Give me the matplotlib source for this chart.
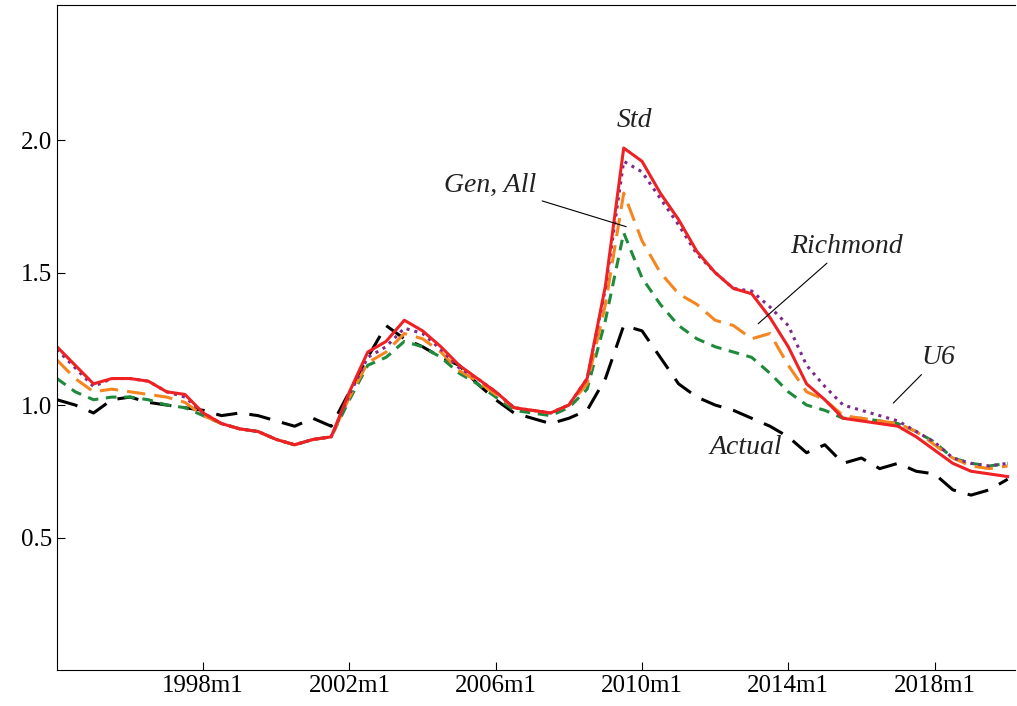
import matplotlib.pyplot as plt
import numpy as np

plt.rcParams['font.family'] = ['Liberation Serif', 'DejaVu Serif']

# semiannual observations, 1994m1 .. 2020m1
t = 1994 + 0.5 * np.arange(53)

std = [1.22, 1.15, 1.08, 1.10, 1.10, 1.09, 1.05, 1.04, 0.97, 0.93,
       0.91, 0.90, 0.87, 0.85, 0.87, 0.88, 1.05, 1.20, 1.24, 1.32,
       1.28, 1.22, 1.15, 1.10, 1.05, 0.99, 0.98, 0.97, 1.00, 1.10,
       1.45, 1.97, 1.92, 1.80, 1.70, 1.58, 1.50, 1.44, 1.42, 1.33,
       1.22, 1.08, 1.02, 0.95, 0.94, 0.93, 0.92, 0.88, 0.83, 0.78,
       0.75, 0.74, 0.73]
u6 = [1.21, 1.14, 1.07, 1.10, 1.10, 1.09, 1.05, 1.03, 0.97, 0.93,
      0.91, 0.90, 0.87, 0.85, 0.87, 0.88, 1.04, 1.18, 1.22, 1.29,
      1.27, 1.21, 1.14, 1.10, 1.05, 0.99, 0.98, 0.97, 1.00, 1.10,
      1.44, 1.92, 1.88, 1.78, 1.68, 1.57, 1.50, 1.44, 1.43, 1.37,
      1.30, 1.15, 1.07, 1.00, 0.98, 0.96, 0.94, 0.90, 0.86, 0.80,
      0.78, 0.77, 0.78]
richmond = [1.17, 1.10, 1.05, 1.06, 1.05, 1.04, 1.03, 1.01, 0.96, 0.93,
            0.91, 0.90, 0.87, 0.85, 0.87, 0.88, 1.03, 1.16, 1.20, 1.27,
            1.25, 1.20, 1.13, 1.09, 1.04, 0.99, 0.98, 0.97, 1.00, 1.08,
            1.38, 1.80, 1.62, 1.50, 1.42, 1.38, 1.32, 1.30, 1.25, 1.27,
            1.15, 1.05, 1.02, 0.96, 0.95, 0.94, 0.93, 0.90, 0.85, 0.80,
            0.77, 0.76, 0.77]
gen_all = [1.10, 1.05, 1.02, 1.03, 1.03, 1.02, 1.00, 0.99, 0.96, 0.93,
           0.91, 0.90, 0.87, 0.85, 0.87, 0.88, 1.02, 1.15, 1.18, 1.24,
           1.22, 1.18, 1.12, 1.08, 1.03, 0.98, 0.97, 0.96, 0.99, 1.06,
           1.32, 1.65, 1.48, 1.38, 1.30, 1.25, 1.22, 1.20, 1.18, 1.12,
           1.05, 1.00, 0.98, 0.95, 0.95, 0.94, 0.93, 0.90, 0.86, 0.80,
           0.78, 0.77, 0.78]
actual = [1.02, 1.00, 0.97, 1.02, 1.03, 1.01, 1.00, 0.99, 0.98, 0.96,
          0.97, 0.96, 0.94, 0.92, 0.95, 0.92, 1.05, 1.18, 1.30, 1.25,
          1.22, 1.18, 1.15, 1.08, 1.02, 0.97, 0.95, 0.93, 0.95, 0.98,
          1.10, 1.30, 1.28, 1.18, 1.08, 1.03, 1.00, 0.98, 0.95, 0.92,
          0.88, 0.82, 0.85, 0.78, 0.80, 0.76, 0.78, 0.75, 0.74, 0.68,
          0.66, 0.68, 0.72]

xticks = [1998, 2002, 2006, 2010, 2014, 2018]
xticklabels = ['1998m1', '2002m1', '2006m1', '2010m1', '2014m1', '2018m1']

fig = plt.figure(figsize=(10.17, 7.06), dpi=100)
ax = fig.add_axes([0.056, 0.051, 0.942, 0.942])

ax.plot(t, actual, color='black', lw=2.2, dashes=(7, 4))
ax.plot(t, gen_all, color='#1e8a3c', lw=2.2, dashes=(3.5, 2.5))
ax.plot(t, richmond, color='#f5861f', lw=2.2, dashes=(6, 3))
ax.plot(t, u6, color='#7b2a8c', lw=2.2, linestyle=':')
ax.plot(t, std, color='#ee2224', lw=2.2)

ax.set_xlim(1994, 2020.2)
ax.set_ylim(0, 2.51)
ax.set_xticks(xticks)
ax.set_xticklabels(xticklabels)
ax.set_yticks([0.5, 1.0, 1.5, 2.0])
ax.set_yticklabels(['0.5', '1.0', '1.5', '2.0'])
ax.tick_params(labelsize=18, direction='in', length=6)
ax.spines['right'].set_visible(False)

lab = dict(fontsize=20, style='italic', color='#222222')
ax.annotate('Gen, All', xy=(2009.64, 1.67), xytext=(2005.86, 1.83),
            ha='center', va='center', arrowprops=dict(arrowstyle='-', lw=0.8), **lab)
ax.text(2009.78, 2.075, 'Std', ha='center', va='center', **lab)
ax.annotate('Richmond', xy=(2013.12, 1.30), xytext=(2015.59, 1.60),
            ha='center', va='center', arrowprops=dict(arrowstyle='-', lw=0.8), **lab)
ax.annotate('U6', xy=(2016.82, 1.00), xytext=(2018.11, 1.18),
            ha='center', va='center', arrowprops=dict(arrowstyle='-', lw=0.8), **lab)
ax.text(2012.85, 0.84, 'Actual', ha='center', va='center', **lab)

fig.savefig('out.png')
